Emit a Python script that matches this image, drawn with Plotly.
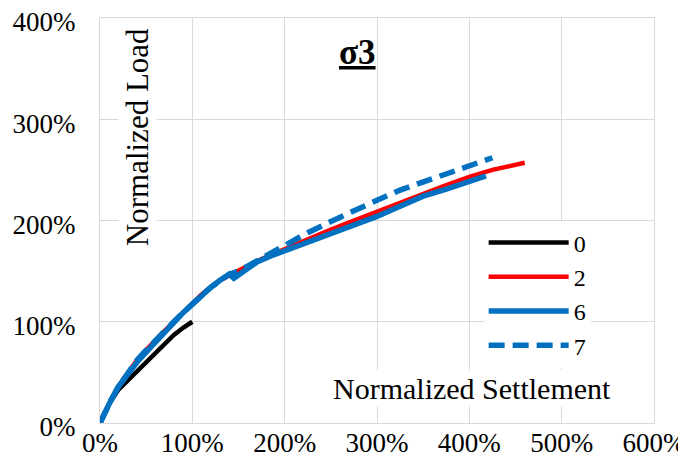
import plotly.graph_objects as go

# Normalized settlement (%) and normalized load (%) for each series
s0_x = [0, 5, 10, 20, 30, 40, 50, 60, 70, 80, 90, 100]
s0_y = [0, 10, 19, 33, 42, 51, 60, 70, 79, 87, 94, 100]

s2_x = [0, 5, 10, 20, 30, 40, 50, 60, 70, 80, 90, 100, 110, 120, 130, 140, 150, 160, 175, 200,
        225, 250, 275, 300, 325, 350, 375, 400, 425, 460]
s2_y = [0, 10, 19, 36, 50, 62, 72, 82, 91, 100, 109, 118, 127, 134, 141, 146, 150, 155, 162, 172,
        181, 191, 200, 209, 218, 227, 235, 243, 250, 257]

s6_x = [0, 5, 10, 20, 30, 40, 50, 60, 70, 80, 90, 100, 110, 120, 130, 140, 145, 150, 160, 170,
        185, 200, 225, 250, 275, 300, 325, 350, 375, 400, 418]
s6_y = [0, 10, 19, 36, 49, 60, 70, 80, 90, 100, 109, 117, 126, 134, 141, 147, 143, 146, 153, 159,
        165, 170, 179, 188, 196, 204, 214, 224, 231, 238, 244]

s7_x = [0, 5, 10, 20, 30, 40, 50, 60, 70, 80, 90, 100, 110, 120, 130, 140, 150, 160, 175, 200,
        225, 250, 275, 300, 325, 350, 375, 400, 425]
s7_y = [0, 10, 19, 36, 50, 62, 72, 82, 91, 100, 109, 118, 126, 134, 141, 147, 150, 155, 164, 176,
        188, 199, 210, 220, 230, 238, 246, 254, 262]

x_ticks = [0, 100, 200, 300, 400, 500, 600]
x_tick_labels = ["0%", "100%", "200%", "300%", "400%", "500%", "600%"]
y_ticks = [0, 100, 200, 300, 400]
y_tick_labels = ["0%", "100%", "200%", "300%", "400%"]

FONT = "Liberation Serif"

fig = go.Figure()
fig.add_trace(go.Scatter(x=s0_x, y=s0_y, mode="lines", name="0",
                         line=dict(color="#000000", width=4.5)))
fig.add_trace(go.Scatter(x=s2_x, y=s2_y, mode="lines", name="2",
                         line=dict(color="#ff0000", width=4.5)))
fig.add_trace(go.Scatter(x=s6_x, y=s6_y, mode="lines", name="6",
                         line=dict(color="#0070c0", width=5.5)))
fig.add_trace(go.Scatter(x=s7_x, y=s7_y, mode="lines", name="7",
                         line=dict(color="#0070c0", width=5.5, dash="16px,8px")))

fig.update_layout(
    width=678, height=462,
    margin=dict(l=92, r=32, t=10, b=47, autoexpand=False),
    paper_bgcolor="white", plot_bgcolor="white",
    showlegend=True,
    xaxis=dict(
        range=[0, 600], tickmode="array", tickvals=x_ticks, ticktext=x_tick_labels,
        tickfont=dict(family=FONT, size=27, color="#000000"),
        ticklabeloverflow="allow", ticklabelstandoff=-4,
        showgrid=True, gridcolor="#d9d9d9", gridwidth=1,
        showline=True, linecolor="#d9d9d9", linewidth=1, mirror=True,
        zeroline=False,
    ),
    yaxis=dict(
        range=[0, 400], tickmode="array", tickvals=y_ticks, ticktext=y_tick_labels,
        tickfont=dict(family=FONT, size=27, color="#000000"),
        ticklabeloverflow="allow", ticklabelshift=4, ticklabelstandoff=18,
        showgrid=True, gridcolor="#d9d9d9", gridwidth=1,
        showline=True, linecolor="#d9d9d9", linewidth=1, mirror=True,
        zeroline=False,
    ),
    legend=dict(
        x=0.6925, y=0.50, xanchor="left", yanchor="top",
        bgcolor="white", borderwidth=0,
        font=dict(family=FONT, size=24, color="#000000"),
        itemwidth=80,
    ),
    annotations=[
        dict(text="Normalized Load", xref="paper", yref="paper", x=0.067, y=0.706,
             xanchor="center", yanchor="middle",
             textangle=-90, showarrow=False, bgcolor="white",
             font=dict(family=FONT, size=31, color="#000000")),
        dict(text="Normalized Settlement", xref="paper", yref="paper", x=0.672, y=0.084,
             xanchor="center", yanchor="middle",
             showarrow=False, bgcolor="white",
             font=dict(family=FONT, size=30, color="#000000")),
        dict(text="<b><u>σ3</u></b>", xref="paper", yref="paper", x=0.464, y=0.914,
             xanchor="center", yanchor="middle",
             showarrow=False,
             font=dict(family=FONT, size=35, color="#000000")),
    ],
)

fig.write_html("out.html")
